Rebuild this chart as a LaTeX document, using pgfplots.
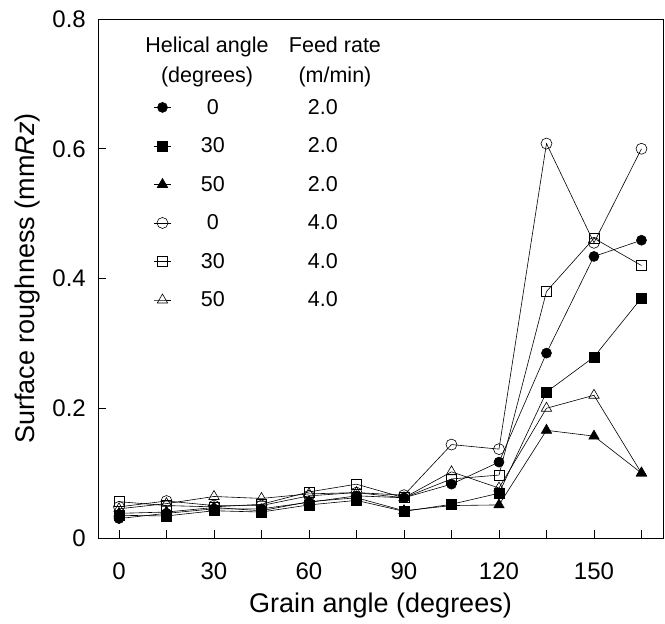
\documentclass[border=0pt]{standalone}
\usepackage{fontspec}
\setmainfont{Liberation Sans}
\usepackage{pgfplots}
\pgfplotsset{compat=1.18}

\begin{document}
\begin{tikzpicture}
\begin{axis}[
  scale only axis, width=565pt, height=519pt,
  xmin=-6.63, xmax=171.8, ymin=0, ymax=0.8,
  xtick={0,30,...,150}, minor xtick={15,45,...,165},
  ytick={0,0.2,0.4,0.6,0.8},
  yticklabels={0,0.2,0.4,0.6,0.8},
  tick align=inside, xtick pos=bottom, ytick pos=left,
  major tick length=8pt, minor tick length=8pt,
  axis line style={line width=0.9pt},
  tick style={black, line width=0.7pt},
  /pgf/number format/assume math mode=true,
  ticklabel style={font=\fontsize{24}{28}\selectfont},
  xticklabel style={anchor=base, yshift=-41pt},
  yticklabel style={anchor=east, xshift=-12pt, inner sep=0pt},
  xlabel={Grain angle (degrees)},
  xlabel style={at={(axis description cs:0.5,-0.1445)}, anchor=base, font=\fontsize{27}{32}\selectfont},
  ylabel={Surface roughness (mm\textit{Rz})},
  ylabel style={at={(axis description cs:-0.1239,0.5)}, anchor=center, font=\fontsize{27}{32}\selectfont},
  legend style={at={(axis description cs:0.0982,0.8459)}, anchor=north west, draw=none, fill=none,
    font=\fontsize{21.5}{25}\selectfont, row sep=22pt, inner xsep=0pt, inner ysep=0pt,
    nodes={inner sep=0pt}},
  legend cell align=left,
  legend image code/.code={\draw[mark repeat=2, mark phase=2] plot coordinates {(-8.5pt,0pt) (0pt,0pt) (8.5pt,0pt)};},
  every axis plot/.append style={black, line width=0.6pt},
]
\addplot[mark=*, mark size=5pt] coordinates {
 (0,0.030) (15,0.038) (30,0.045) (45,0.045) (60,0.055) (75,0.065) (90,0.062) (105,0.083) (120,0.117) (135,0.285) (150,0.434) (165,0.459)};
\addlegendentry{\hspace{11.5pt}\makebox[60pt]{0}\hspace{50pt}\makebox[60pt]{2.0}}
\addplot[mark=square*, mark size=5pt] coordinates {
 (0,0.035) (15,0.034) (30,0.042) (45,0.040) (60,0.051) (75,0.058) (90,0.041) (105,0.052) (120,0.069) (135,0.225) (150,0.279) (165,0.370)};
\addlegendentry{\hspace{11.5pt}\makebox[60pt]{30}\hspace{50pt}\makebox[60pt]{2.0}}
\addplot[mark=triangle*, mark size=6pt] coordinates {
 (0,0.038) (15,0.040) (30,0.047) (45,0.042) (60,0.056) (75,0.062) (90,0.042) (105,0.050) (120,0.051) (135,0.166) (150,0.157) (165,0.100)};
\addlegendentry{\hspace{11.5pt}\makebox[60pt]{50}\hspace{50pt}\makebox[60pt]{2.0}}
\addplot[mark=o, mark size=5.5pt] coordinates {
 (0,0.048) (15,0.057) (30,0.050) (45,0.050) (60,0.065) (75,0.070) (90,0.066) (105,0.144) (120,0.137) (135,0.608) (150,0.455) (165,0.600)};
\addlegendentry{\hspace{11.5pt}\makebox[60pt]{0}\hspace{50pt}\makebox[60pt]{4.0}}
\addplot[mark=square, mark size=5pt] coordinates {
 (0,0.056) (15,0.050) (30,0.048) (45,0.052) (60,0.071) (75,0.083) (90,0.062) (105,0.091) (120,0.097) (135,0.380) (150,0.462) (165,0.420)};
\addlegendentry{\hspace{11.5pt}\makebox[60pt]{30}\hspace{50pt}\makebox[60pt]{4.0}}
\addplot[mark=triangle, mark size=6pt] coordinates {
 (0,0.045) (15,0.053) (30,0.064) (45,0.061) (60,0.068) (75,0.070) (90,0.062) (105,0.102) (120,0.077) (135,0.200) (150,0.220) (165,0.100)};
\addlegendentry{\hspace{11.5pt}\makebox[60pt]{50}\hspace{50pt}\makebox[60pt]{4.0}}
\node[align=center, font=\fontsize{21.5}{30}\selectfont] at (axis cs:27.8,0.734) {Helical angle\\(degrees)};
\node[align=center, font=\fontsize{21.5}{30}\selectfont] at (axis cs:68.2,0.734) {Feed rate\\(m/min)};
\coordinate (sw) at (rel axis cs:0,0);
\coordinate (ne) at (rel axis cs:1,1);
\end{axis}
\path ([xshift=-98pt,yshift=-85pt]sw) rectangle ([xshift=2pt,yshift=19pt]ne);
\end{tikzpicture}
\end{document}
